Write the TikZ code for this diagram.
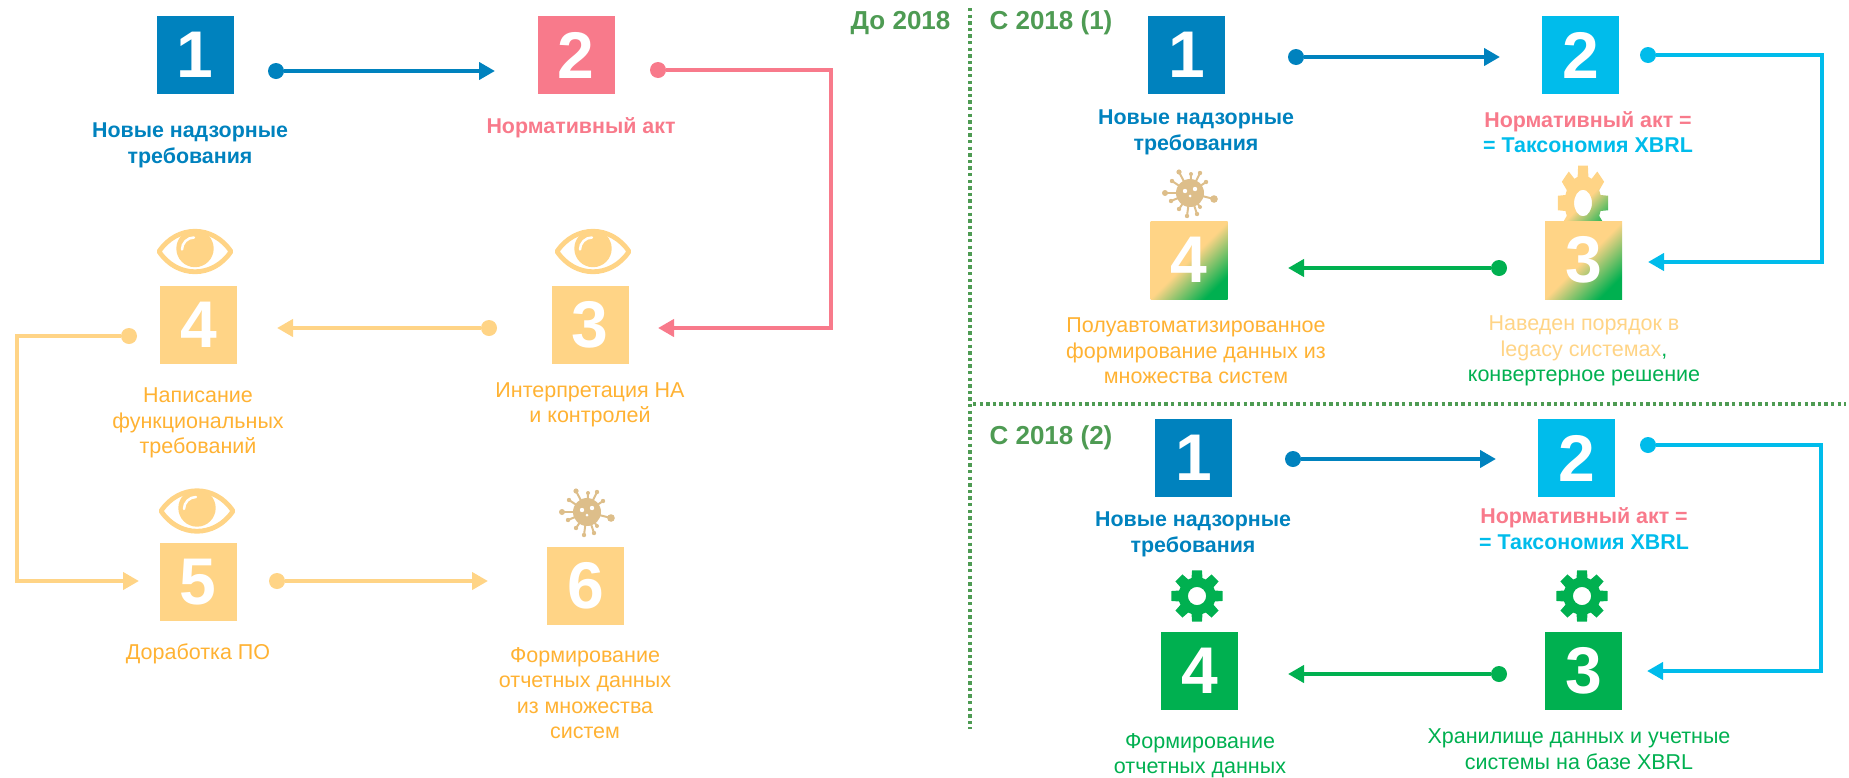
\documentclass[tikz,border=0pt]{standalone}
\usepackage{fontspec}
\setmainfont{Liberation Sans}
\usepackage{xcolor}
\usetikzlibrary{arrows.meta,positioning,calc}
\definecolor{bluec}{RGB}{0,130,190}
\definecolor{cyanc}{RGB}{0,188,235}
\definecolor{pinkc}{RGB}{248,122,139}
\definecolor{sandc}{RGB}{255,212,134}
\definecolor{amberc}{RGB}{255,178,51}
\definecolor{greenc}{RGB}{0,176,80}
\definecolor{titlec}{RGB}{78,155,83}
\definecolor{virusc}{RGB}{221,190,138}
\pgfdeclareverticalshading{sandgreen}{100bp}{color(0bp)=(greenc); color(25bp)=(greenc); color(50bp)=(sandc); color(100bp)=(sandc)}

\begin{document}
\begin{tikzpicture}[
    x=1pt, y=-1pt,
    numbox/.style={minimum width=77pt, minimum height=78pt, inner sep=0pt, text=white, font=\fontsize{66}{66}\selectfont\bfseries},
    mixbox/.style={numbox, shading=sandgreen, shading angle=45},
    dotn/.style={circle, minimum size=16pt, inner sep=0pt},
    arrow/.style={line width=4pt, -{Triangle[length=16pt,width=17pt]}},
    lbl/.style={align=center, inner sep=0pt, font=\fontsize{21.5}{25.5}\selectfont},
    lblb/.style={align=center, inner sep=0pt, font=\fontsize{21.4}{25.5}\selectfont\bfseries},
    ttl/.style={inner sep=0pt, text=titlec, font=\fontsize{26}{26}\selectfont\bfseries},
    sep/.style={line width=3.4pt, titlec, dash pattern=on 3.3pt off 3.3pt},
    eyeicon/.pic={
        \draw[sandc, line width=4.8pt, line join=round] (-36,0) .. controls (-18,-27) and (18,-27) .. (36,0) .. controls (18,27) and (-18,27) .. (-36,0) -- cycle;
        \fill[sandc] (0,-3) circle (18.7);
        \draw[white, line width=2.5pt, line cap=round] (-13,-2) arc (180:270:12);
    },
    gearicon/.pic={
        \path[pic actions, even odd rule] (-17:.72) \foreach \a in {0,45,...,315}{ -- (\a-17:.72) -- (\a-11:1) -- (\a+11:1) -- (\a+17:.72) } -- cycle (0,0) circle (.35);
    },
    virusicon/.pic={
        \fill[virusc] (0,0) circle (14);
        \foreach \dx/\dy/\rr in {-11/-21/2.6, 1/-19/2, 10/-20/2.2, 16/-11/2.2, 24/6/3.8, 10/14/2, 7/21/2.2, -3/23/2.2, -11/16/2.2, -19/8/2.2, -25/0/3, -18/-12/2.2}{
            \draw[virusc, line width=2pt] (0,0) -- (\dx,\dy);
            \fill[virusc] (\dx,\dy) circle (\rr);
        }
        \fill[white] (-5,-2) circle (2.2) (5,-4) circle (2.2) (0,3) circle (1.5);
    }
]
\useasboundingbox (0,0) rectangle (1849,777);

% Separators
\coordinate (vtop) at (970,8);
\coordinate (vbot) at (970,729);
\coordinate (hleft) at (973,404);
\coordinate (hright) at (1846,404);
\draw[sep] (vtop) -- (vbot);
\draw[sep] (hleft) -- (hright);

% Titles
\node[ttl] (ttlold) at (900.5,23) {До 2018};
\node[ttl] (ttlone) at (1051,23) {С 2018 (1)};
\node[ttl] (ttltwo) at (1051,438) {С 2018 (2)};

% Icons
\pic at (195,251.5) {eyeicon};
\pic at (593,251.5) {eyeicon};
\pic at (197,511) {eyeicon};
\pic at (587,512) {virusicon};
\pic at (1190,193) {virusicon};
\pic[shade, shading=sandgreen, shading angle=45, xscale=25.5, yscale=38] at (1583,203) {gearicon};
\pic[fill=greenc, scale=26] at (1197,596) {gearicon};
\pic[fill=greenc, scale=26] at (1582,596) {gearicon};

% Before 2018
\node[numbox, fill=bluec] (old1) at (195,55) {1};
\node[numbox, fill=pinkc] (old2) at (576,55) {2};
\node[numbox, fill=sandc] (old3) at (590,325) {3};
\node[numbox, fill=sandc] (old4) at (198.5,325) {4};
\node[numbox, fill=sandc] (old5) at (198,582) {5};
\node[numbox, fill=sandc] (old6) at (585.5,585.5) {6};

\node[lblb, text=bluec] (oldtxt1) at (190,145.5) {Новые надзорные\\требования};
\node[lblb, text=pinkc] (oldtxt2) at (581,128) {Нормативный акт};
\node[lbl, text=amberc] (oldtxt3) at (590,405) {Интерпретация НА\\и контролей};
\node[lbl, text=amberc] (oldtxt4) at (198,423) {Написание\\функциональных\\требований};
\node[lbl, text=amberc] (oldtxt5) at (198,654) {Доработка ПО};
\node[lbl, text=amberc] (oldtxt6) at (585,693) {Формирование\\отчетных данных\\из множества\\систем};

\node[dotn, fill=bluec] (olddot1) at (276,71) {};
\node[dotn, fill=pinkc] (olddot2) at (658,70) {};
\node[dotn, fill=sandc] (olddot3) at (489,328) {};
\node[dotn, fill=sandc] (olddot4) at (129,336) {};
\node[dotn, fill=sandc] (olddot5) at (277,581) {};

\coordinate (oldtip1) at (495,71);
\coordinate (oldbend2) at (831,328);
\coordinate (oldtip2) at (658,328);
\coordinate (oldtip3) at (277,328);
\coordinate (oldbend4) at (17,581);
\coordinate (oldtip4) at (139,581);
\coordinate (oldtip5) at (488,581);

\draw[arrow, bluec] (olddot1) -- (oldtip1);
\draw[arrow, pinkc] (olddot2) -| (oldbend2) -- (oldtip2);
\draw[arrow, sandc] (olddot3) -- (oldtip3);
\draw[arrow, sandc] (olddot4) -| (oldbend4) -- (oldtip4);
\draw[arrow, sandc] (olddot5) -- (oldtip5);

% Since 2018, first way
\node[numbox, fill=bluec] (one1) at (1186.5,55) {1};
\node[numbox, fill=cyanc] (one2) at (1580.5,55) {2};
\node[mixbox] (one3) at (1583.5,260) {3};
\node[mixbox] (one4) at (1189,260) {4};

\node[lblb, text=bluec] (onetxt1) at (1196,132.5) {Новые надзорные\\требования};
\node[lblb, text=pinkc] (onetxt2) at (1588,132) {Нормативный акт =\\\textcolor{cyanc}{= Таксономия XBRL}};
\node[lbl, text=sandc] (onetxt3) at (1584,351) {Наведен порядок в\\legacy системах\textcolor{greenc}{,}\\\textcolor{greenc}{конвертерное решение}};
\node[lbl, text=amberc] (onetxt4) at (1196,351) {Полуавтоматизированное\\формирование данных из\\множества систем};

\node[dotn, fill=bluec] (onedot1) at (1296,57) {};
\node[dotn, fill=cyanc] (onedot2) at (1648,55) {};
\node[dotn, fill=greenc] (onedot3) at (1499,268) {};

\coordinate (onetip1) at (1500,57);
\coordinate (onebend2) at (1822,262);
\coordinate (onetip2) at (1648,262);
\coordinate (onetip3) at (1288,268);

\draw[arrow, bluec] (onedot1) -- (onetip1);
\draw[arrow, cyanc] (onedot2) -| (onebend2) -- (onetip2);
\draw[arrow, greenc] (onedot3) -- (onetip3);

% Since 2018, second way
\node[numbox, fill=bluec] (two1) at (1193.5,458) {1};
\node[numbox, fill=cyanc] (two2) at (1576.5,458) {2};
\node[numbox, fill=greenc] (two3) at (1583.5,671) {3};
\node[numbox, fill=greenc] (two4) at (1199.5,671) {4};

\node[lblb, text=bluec] (twotxt1) at (1193,534.5) {Новые надзорные\\требования};
\node[lblb, text=pinkc] (twotxt2) at (1584,528.5) {Нормативный акт =\\\textcolor{cyanc}{= Таксономия XBRL}};
\node[lbl, text=greenc] (twotxt3) at (1579,749) {Хранилище данных и учетные\\системы на базе XBRL};
\node[lbl, text=greenc] (twotxt4) at (1200,755.5) {Формирование\\отчетных данных};

\node[dotn, fill=bluec] (twodot1) at (1293,459) {};
\node[dotn, fill=cyanc] (twodot2) at (1648,445) {};
\node[dotn, fill=greenc] (twodot3) at (1499,674) {};

\coordinate (twotip1) at (1496,459);
\coordinate (twobend2) at (1821,671);
\coordinate (twotip2) at (1647,671);
\coordinate (twotip3) at (1288,674);

\draw[arrow, bluec] (twodot1) -- (twotip1);
\draw[arrow, cyanc] (twodot2) -| (twobend2) -- (twotip2);
\draw[arrow, greenc] (twodot3) -- (twotip3);

\end{tikzpicture}
\end{document}
